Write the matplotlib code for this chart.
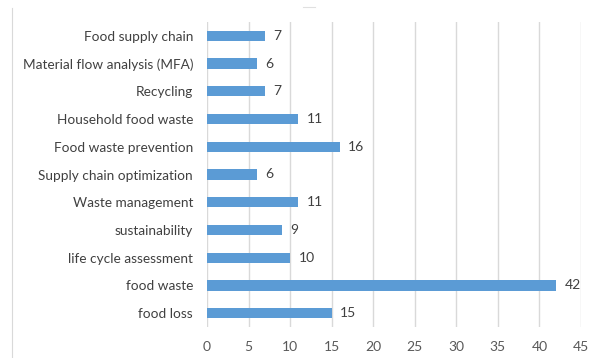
import matplotlib
matplotlib.use("Agg")
import matplotlib.pyplot as plt
from matplotlib.lines import Line2D

categories = ["food loss", "food waste", "life cycle assessment", "sustainability",
              "Waste management", "Supply chain optimization", "Food waste prevention",
              "Household food waste", "Recycling", "Material flow analysis (MFA)",
              "Food supply chain"]
values = [15, 42, 10, 9, 11, 6, 16, 11, 7, 6, 7]
xticks = [0, 5, 10, 15, 20, 25, 30, 35, 40, 45]

plt.rcParams['font.family'] = ['Lato', 'DejaVu Sans']
fig = plt.figure(figsize=(5.89, 3.58), dpi=100)
ax = fig.add_axes([207/589, 1-327/358, (581-207)/589, (327-22)/358])

ypos = list(range(len(categories)))
ax.barh(ypos, values, height=0.37, color="#5B9BD5", zorder=3)
for y, v in zip(ypos, values):
    ax.annotate(str(v), (v, y), xytext=(6, 0), textcoords="offset points",
                ha="left", va="center", fontsize=10, color="#404040")

ax.set_xlim(0, 45)
ax.set_ylim(-0.5, len(categories) - 0.5)
ax.set_xticks(xticks)
ax.set_xticklabels([str(t) for t in xticks], fontsize=10, color="#595959")
ax.set_yticks(ypos)
ax.set_yticklabels(categories, fontsize=9.8, color="#404040")
ax.tick_params(axis="both", length=0)
ax.tick_params(axis="y", pad=10)
ax.tick_params(axis="x", pad=10)
ax.grid(axis="x", color="#D9D9D9", linewidth=1, zorder=0)
for s in ax.spines.values():
    s.set_visible(False)

fig.add_artist(Line2D([12/589, 12/589], [0, 1-8/358], color="#D9D9D9", linewidth=0.8))
fig.add_artist(Line2D([303/589, 315/589], [1-7/358, 1-7/358], color="#E0E0E0", linewidth=0.8))

fig.savefig("out.png", dpi=100)
